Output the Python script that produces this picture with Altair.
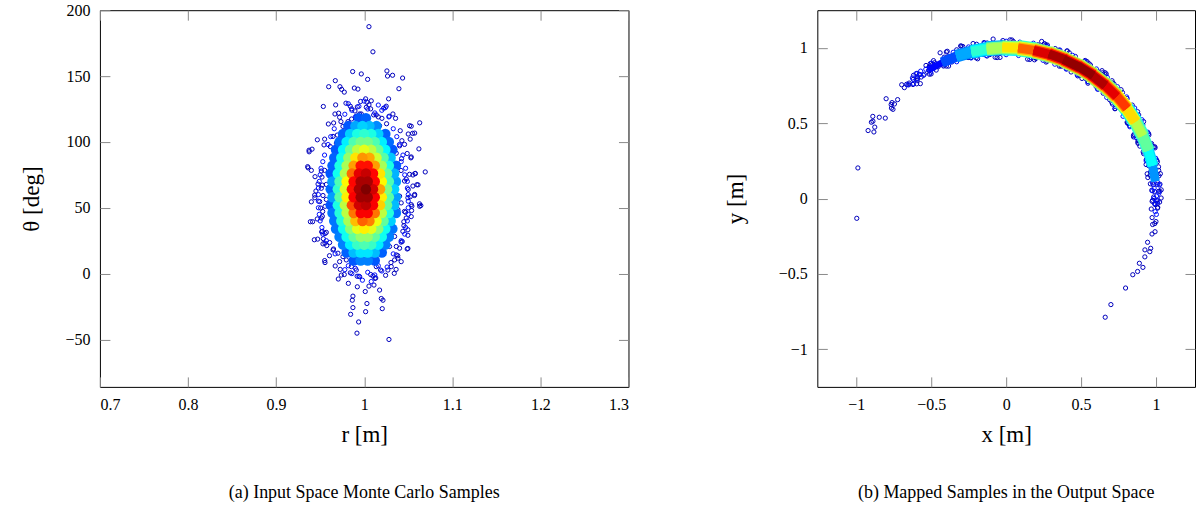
import altair as alt
import pandas as pd

# ---------------- data ----------------
# sparse (blue) Monte Carlo samples: r [m], theta [deg]
OUTER_R = [1.0054, 1.0099, 0.9869, 0.9967, 1.0039, 1.0258, 1.0265, 1.0322, 1.0436, 0.9672,
           0.9597, 0.9725, 0.9744, 0.9774, 0.9888, 0.9929, 1.0394, 0.9536, 0.9676, 0.9793,
           0.9842, 0.9857, 0.9959, 1.0016, 1.0031, 1.0054, 1.0080, 0.9922, 0.9895, 0.9967,
           1.0220, 1.0250, 1.0277, 1.0326, 1.0356, 0.9668, 0.9710, 0.9721, 0.9736, 0.9759,
           0.9593, 0.9653, 0.9816, 0.9857, 0.9910, 0.9948, 1.0024, 1.0073, 1.0107, 1.0137,
           1.0160, 1.0201, 1.0175, 1.0254, 1.0284, 1.0515, 1.0409, 1.0500, 1.0549, 1.0522,
           1.0621, 0.9468, 0.9551, 0.9615, 0.9374, 0.9408, 0.9646, 0.9695, 0.9736, 0.9684,
           1.0428, 1.0458, 1.0402, 1.0364, 1.0530, 1.0424, 0.9358, 0.9400, 1.0693, 1.0553,
           1.0579, 0.9513, 0.9551, 0.9521, 0.9442, 0.9476, 0.9525, 0.9570, 0.9438, 0.9400,
           0.9495, 0.9532, 0.9570, 0.9389, 0.9513, 0.9525, 0.9434, 0.9472, 0.9532, 0.9555,
           0.9608, 0.9525, 0.9570, 0.9551, 0.9646, 0.9702, 0.9759, 0.9721, 0.9797, 0.9854,
           0.9706, 0.9740, 0.9820, 0.9910, 0.9948, 0.9922, 0.9872, 0.9865, 0.9872, 0.9846,
           0.9937, 0.9918, 1.0012, 1.0031, 1.0016, 1.0054, 1.0111, 1.0122, 1.0175, 1.0194,
           1.0213, 1.0205, 1.0281, 1.0099, 1.0137, 1.0186, 1.0243, 1.0269, 1.0341, 1.0345,
           1.0364, 1.0307, 1.0402, 1.0496, 1.0432, 1.0439, 1.0496, 1.0451, 1.0477, 1.0538,
           1.0470, 1.0628, 1.0643, 1.0541, 1.0522, 1.0571, 1.0500, 1.0553, 1.0598, 1.0458,
           1.0515, 1.0579, 1.0402, 1.0420, 1.0383, 1.0326, 1.0345, 1.0288, 1.0364, 1.0383,
           1.0420, 0.9375, 0.9364, 0.9544, 0.9452, 0.9513, 0.9440, 0.9414, 0.9467, 0.9506,
           0.9556, 0.9529, 0.9517, 0.9556, 0.9536, 0.9575, 0.9652, 0.9606, 0.9555, 0.9671,
           0.9728, 0.9774, 0.9843, 0.9920, 1.0074, 1.0131, 1.0534, 1.0573, 1.0630, 1.0488,
           1.0534, 1.0419, 1.0477, 1.0611, 1.0573, 1.0496, 1.0534, 1.0630, 1.0457, 1.0534,
           1.0450, 1.0496, 1.0419, 1.0488, 1.0381, 1.0304, 1.0362]
OUTER_THETA = [187.5, 168.4, 153.4, 151.6, 147.5, 153.9, 150.0, 150.6, 148.5, 146.5,
               141.9, 141.9, 139.9, 137.8, 140.9, 140.1, 140.4, 126.9, 128.1, 129.4,
               127.1, 125.1, 130.7, 132.7, 130.2, 128.1, 131.2, 126.6, 123.5, 121.2,
               125.6, 127.1, 132.7, 121.2, 117.9, 121.2, 121.8, 118.7, 115.4, 111.8,
               113.6, 114.4, 115.4, 117.4, 119.5, 121.2, 126.3, 125.1, 120.5, 120.5,
               119.0, 117.9, 112.3, 113.8, 119.5, 112.3, 108.5, 106.0, 106.5, 102.1,
               94.7, 101.6, 102.1, 96.5, 93.7, 94.5, 104.2, 105.2, 102.6, 99.1,
               100.9, 98.1, 97.0, 91.4, 87.9, 87.3, 81.2, 78.4, 77.2, 74.9,
               75.9, 77.9, 78.4, 73.3, 73.6, 68.0, 67.2, 67.7, 59.6, 54.5,
               54.7, 59.3, 56.3, 39.4, 42.2, 43.5, 25.7, 26.2, 22.6, 23.1,
               23.6, 32.1, 31.3, 9.9, 18.0, 15.5, 12.9, 9.1, 10.4, 5.3,
               -4.1, -1.1, -7.4, 2.7, -2.3, -10.0, -17.1, -20.2, -25.8, -30.9,
               -36.7, -45.2, -13.6, -22.7, -28.9, -9.5, -8.7, -3.6, -12.5, -18.9,
               -20.2, -26.6, -50.0, -1.8, 5.3, 2.7, -1.3, 2.7, 0.2, 10.4,
               14.2, 5.3, 19.3, 19.1, 24.4, 32.1, 33.3, 36.4, 42.2, 47.9,
               46.6, 53.0, 51.7, 51.2, 58.3, 59.3, 63.9, 66.5, 67.5, 70.3,
               75.4, 76.1, 58.8, 53.7, 48.6, 35.9, 28.2, 20.6, 20.6, 11.7,
               9.1, 92.5, 80.3, 97.7, 62.7, 64.8, 57.6, 39.4, 41.5, 49.8,
               51.1, 47.2, 31.7, 30.4, 26.5, 21.3, 18.7, 13.6, 8.4, 5.8,
               3.2, -0.7, 0.6, -2.0, -0.7, -3.3, 111.9, 106.7, 114.5, 91.2,
               88.6, 78.3, 71.8, 67.4, 60.1, 57.6, 52.4, 51.1, 47.2, 43.3,
               39.4, 29.1, 23.9, 18.7, 13.6, 8.4, 3.2]

# blue ring of samples around the coloured core
RING_R = [0.978, 0.986, 0.994, 1.004, 1.012, 1.020, 1.028, 0.982, 1.000, 1.016, 0.990, 1.024,
          0.978, 0.986, 0.994, 1.004, 1.012, 1.020, 0.982, 1.016, 0.998, 1.008, 0.990, 1.026,
          0.953, 0.950, 0.948, 0.948, 0.949, 0.951, 0.955, 0.959, 0.957, 0.952, 0.949, 0.948,
          0.948, 0.950, 0.953, 0.962, 0.966, 0.967,
          1.046, 1.049, 1.050, 1.050, 1.049, 1.047, 1.044, 1.040, 1.042, 1.047, 1.050, 1.050,
          1.049, 1.046, 1.042, 1.037, 1.033, 1.033]
RING_THETA = [121, 124, 127, 125, 122, 124, 119, 129, 131, 128, 119, 126,
              3, 0, -2, 1, -1, 2, 6, 6, -5, -6, 4, 5,
              30, 40, 50, 60, 70, 80, 90, 98, 25, 35, 45, 55, 65, 75, 85, 104, 110, 15,
              30, 40, 50, 60, 70, 80, 90, 98, 25, 35, 45, 55, 65, 75, 85, 104, 110, 15]

# dense core: rows of theta, r samples in each row, density level in the
# input-space picture (LA) and in the output-space picture (LB)
CORE_THETA = [10, 16, 22, 28, 34, 40, 46, 52, 58, 64, 70, 76, 82, 88, 94, 100, 106, 112, 118]
CORE_R = [
    [0.988, 0.996, 1.004, 1.012],
    [0.980, 0.988, 0.996, 1.004, 1.012, 1.020],
    [0.976, 0.984, 0.992, 1.000, 1.008, 1.016, 1.024],
    [0.972, 0.980, 0.988, 0.996, 1.004, 1.012, 1.020, 1.028],
    [0.968, 0.976, 0.984, 0.992, 1.000, 1.008, 1.016, 1.024, 1.032],
    [0.966, 0.974, 0.982, 0.990, 0.998, 1.006, 1.014, 1.022, 1.030],
    [0.964, 0.972, 0.980, 0.988, 0.996, 1.004, 1.012, 1.020, 1.028, 1.036],
    [0.962, 0.970, 0.978, 0.986, 0.994, 1.002, 1.010, 1.018, 1.026, 1.034],
    [0.964, 0.972, 0.980, 0.988, 0.996, 1.004, 1.012, 1.020, 1.028, 1.036],
    [0.962, 0.970, 0.978, 0.986, 0.994, 1.002, 1.010, 1.018, 1.026, 1.034],
    [0.964, 0.972, 0.980, 0.988, 0.996, 1.004, 1.012, 1.020, 1.028, 1.036],
    [0.962, 0.970, 0.978, 0.986, 0.994, 1.002, 1.010, 1.018, 1.026, 1.034],
    [0.964, 0.972, 0.980, 0.988, 0.996, 1.004, 1.012, 1.020, 1.028, 1.036],
    [0.966, 0.974, 0.982, 0.990, 0.998, 1.006, 1.014, 1.022, 1.030],
    [0.968, 0.976, 0.984, 0.992, 1.000, 1.008, 1.016, 1.024, 1.032],
    [0.972, 0.980, 0.988, 0.996, 1.004, 1.012, 1.020, 1.028],
    [0.976, 0.984, 0.992, 1.000, 1.008, 1.016, 1.024],
    [0.982, 0.990, 0.998, 1.006, 1.014],
    [0.994, 1.002],
]
CORE_LA = [
    [0.21, 0.25, 0.25, 0.21],
    [0.22, 0.31, 0.35, 0.35, 0.31, 0.22],
    [0.25, 0.36, 0.43, 0.45, 0.43, 0.36, 0.25],
    [0.25, 0.39, 0.47, 0.52, 0.52, 0.47, 0.39, 0.25],
    [0.24, 0.39, 0.51, 0.60, 0.64, 0.60, 0.51, 0.39, 0.24],
    [0.24, 0.41, 0.54, 0.69, 0.78, 0.75, 0.61, 0.47, 0.33],
    [0.24, 0.41, 0.56, 0.76, 0.88, 0.88, 0.76, 0.56, 0.41, 0.24],
    [0.21, 0.40, 0.56, 0.80, 0.92, 0.94, 0.88, 0.67, 0.48, 0.31],
    [0.28, 0.46, 0.64, 0.88, 0.97, 0.97, 0.88, 0.64, 0.46, 0.28],
    [0.23, 0.42, 0.59, 0.86, 0.96, 1.00, 0.92, 0.72, 0.50, 0.33],
    [0.28, 0.45, 0.63, 0.87, 0.96, 0.96, 0.87, 0.63, 0.45, 0.28],
    [0.21, 0.39, 0.55, 0.77, 0.90, 0.93, 0.87, 0.65, 0.47, 0.30],
    [0.22, 0.40, 0.54, 0.72, 0.86, 0.86, 0.72, 0.54, 0.40, 0.22],
    [0.22, 0.39, 0.52, 0.65, 0.73, 0.71, 0.58, 0.46, 0.32],
    [0.21, 0.37, 0.48, 0.56, 0.60, 0.56, 0.48, 0.37, 0.21],
    [0.23, 0.36, 0.45, 0.49, 0.49, 0.45, 0.36, 0.23],
    [0.22, 0.33, 0.40, 0.42, 0.40, 0.33, 0.22],
    [0.21, 0.29, 0.33, 0.31, 0.26],
    [0.21, 0.22],
]
CORE_LB = [
    [0.27, 0.27, 0.27, 0.27],
    [0.34, 0.38, 0.38, 0.38, 0.38, 0.34],
    [0.42, 0.47, 0.47, 0.47, 0.47, 0.47, 0.42],
    [0.41, 0.50, 0.55, 0.55, 0.55, 0.55, 0.50, 0.41],
    [0.36, 0.59, 0.66, 0.66, 0.66, 0.66, 0.66, 0.59, 0.36],
    [0.45, 0.62, 0.74, 0.82, 0.82, 0.82, 0.82, 0.74, 0.62],
    [0.50, 0.68, 0.81, 0.90, 0.90, 0.90, 0.90, 0.81, 0.68, 0.50],
    [0.52, 0.71, 0.86, 0.95, 0.95, 0.95, 0.95, 0.86, 0.71, 0.52],
    [0.54, 0.74, 0.88, 0.98, 0.98, 0.98, 0.98, 0.88, 0.74, 0.54],
    [0.54, 0.74, 0.88, 0.98, 0.98, 0.98, 0.98, 0.88, 0.74, 0.54],
    [0.53, 0.72, 0.86, 0.96, 0.96, 0.96, 0.96, 0.86, 0.72, 0.53],
    [0.50, 0.68, 0.82, 0.91, 0.91, 0.91, 0.91, 0.82, 0.68, 0.50],
    [0.43, 0.59, 0.70, 0.78, 0.78, 0.78, 0.78, 0.70, 0.59, 0.43],
    [0.36, 0.49, 0.59, 0.65, 0.65, 0.65, 0.65, 0.59, 0.49],
    [0.30, 0.49, 0.54, 0.54, 0.54, 0.54, 0.54, 0.49, 0.30],
    [0.32, 0.38, 0.42, 0.42, 0.42, 0.42, 0.38, 0.32],
    [0.26, 0.29, 0.29, 0.29, 0.29, 0.29, 0.26],
    [0.20, 0.20, 0.20, 0.20, 0.20],
    [0.13, 0.13],
]
OUTER_LEVEL = 0.06
RING_LEVEL = 0.14

XA_TICKS = [0.7, 0.8, 0.9, 1.0, 1.1, 1.2, 1.3]
YA_TICKS = [-50, 0, 50, 100, 150, 200]
B_TICKS = [-1, -0.5, 0, 0.5, 1]

# jet colour map
JET_DOMAIN = [0, 0.125, 0.375, 0.625, 0.875, 1.0]
JET_RANGE = ["#00007f", "#0000ff", "#00ffff", "#ffff00", "#ff0000", "#7f0000"]

# ---------------- tables ----------------
sparse_df = pd.DataFrame({
    "r": OUTER_R + RING_R,
    "t": OUTER_THETA + RING_THETA,
    "lv": [OUTER_LEVEL] * len(OUTER_R) + [RING_LEVEL] * len(RING_R),
})
rows = []
for t, rs, las, lbs in zip(CORE_THETA, CORE_R, CORE_LA, CORE_LB):
    for r, la, lb in zip(rs, las, lbs):
        rows.append({"r": r, "t": t, "la": la, "lb": lb})
core_df = pd.DataFrame(rows)

FONT = "Liberation Serif"
TICK = 10
color_scale = alt.Scale(domain=JET_DOMAIN, range=JET_RANGE, interpolate="rgb")
ARC_SHAPE = "M-1,-0.3L1,-0.3L1,0.3L-1,0.3Z"


def axis(values, orient, title=None, labels=True, title_pad=4, label_pad=10):
    kw = dict(orient=orient, values=values, offset=-TICK, tickSize=TICK,
              domain=False, grid=False, labels=labels, labelPadding=label_pad,
              format="~r")
    if title:
        kw["title"] = title
        kw["titlePadding"] = title_pad
    else:
        kw["title"] = None
    return alt.Axis(**kw)


def caption(text):
    return alt.TitleParams(text, orient="bottom", font=FONT, fontSize=18,
                           fontWeight="normal", offset=37, color="#000")


# ---------------- panel (a) ----------------
xa = alt.Scale(domain=[0.7, 1.3], nice=False, zero=False)
ya = alt.Scale(domain=[-86, 200], nice=False, zero=False)

a_sparse = alt.Chart(sparse_df).mark_point(filled=False, size=18, strokeWidth=1, opacity=1).encode(
    x=alt.X("r:Q", scale=xa, axis=axis(XA_TICKS, "bottom", "r [m]", title_pad=11, label_pad=10)),
    y=alt.Y("t:Q", scale=ya, axis=axis(YA_TICKS, "left", "θ [deg]", title_pad=21)),
    color=alt.Color("lv:Q", scale=color_scale, legend=None),
)
a_core = alt.Chart(core_df).mark_circle(size=110, opacity=1).encode(
    x=alt.X("r:Q", scale=xa, axis=axis(XA_TICKS, "top", labels=False)),
    y=alt.Y("t:Q", scale=ya, axis=axis(YA_TICKS, "right", labels=False)),
    color=alt.Color("la:Q", scale=color_scale, legend=None),
    order=alt.Order("la:Q"),
)
panel_a = alt.layer(a_sparse, a_core).resolve_axis(x="independent", y="independent").properties(
    width=529, height=377, title=caption("(a) Input Space Monte Carlo Samples"))

# ---------------- panel (b) ----------------
xb = alt.Scale(domain=[-1.26, 1.26], nice=False, zero=False)
yb = alt.Scale(domain=[-1.25, 1.25], nice=False, zero=False)

b_sparse = alt.Chart(sparse_df).transform_calculate(
    px="datum.r * cos(datum.t * PI / 180)",
    py="datum.r * sin(datum.t * PI / 180)",
).mark_point(filled=False, size=18, strokeWidth=1, opacity=1).encode(
    x=alt.X("px:Q", scale=xb, axis=axis(B_TICKS, "bottom", "x [m]", title_pad=11, label_pad=10)),
    y=alt.Y("py:Q", scale=yb, axis=axis(B_TICKS, "left", "y [m]", title_pad=31)),
    color=alt.Color("lv:Q", scale=color_scale, legend=None),
)
b_core = alt.Chart(core_df).transform_calculate(
    px="datum.r * cos(datum.t * PI / 180)",
    py="datum.r * sin(datum.t * PI / 180)",
    ang="(450 - datum.t) % 180",
).mark_point(shape=ARC_SHAPE, filled=True, size=324, opacity=1, strokeWidth=0).encode(
    x=alt.X("px:Q", scale=xb, axis=axis(B_TICKS, "top", labels=False)),
    y=alt.Y("py:Q", scale=yb, axis=axis(B_TICKS, "right", labels=False)),
    color=alt.Color("lb:Q", scale=color_scale, legend=None),
    angle=alt.Angle("ang:Q", scale=None),
    order=alt.Order("lb:Q"),
)
panel_b = alt.layer(b_sparse, b_core).resolve_axis(x="independent", y="independent").properties(
    width=378, height=377, title=caption("(b) Mapped Samples in the Output Space"))

chart = alt.hconcat(panel_a, panel_b, spacing=94).resolve_scale(color="shared").properties(
    padding={"left": 20, "top": 1, "right": 0, "bottom": 0}
).configure_view(stroke="#000", strokeWidth=1).configure_axis(
    labelFont=FONT, labelFontSize=16, labelColor="#000",
    titleFont=FONT, titleFontSize=23, titleFontWeight="normal", titleColor="#000",
    tickColor="#8a8a8a", tickWidth=1,
)

chart.save("out.html", embed_options={"renderer": "svg", "actions": False})
